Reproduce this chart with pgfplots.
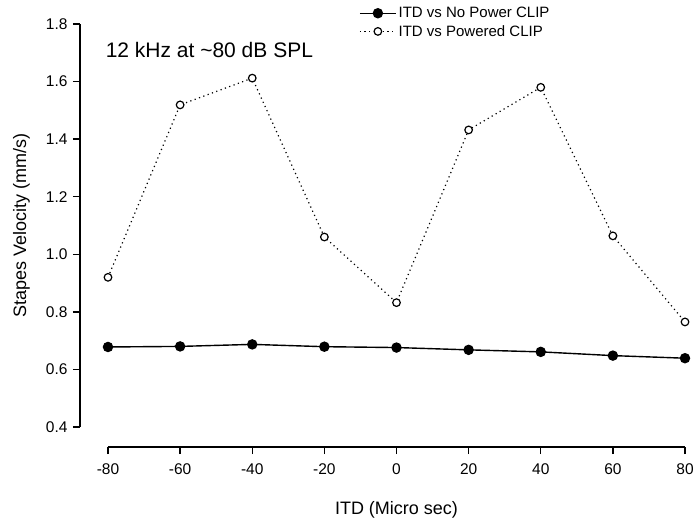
\documentclass[border=0pt]{standalone}
\usepackage{fontspec}
\setmainfont{Liberation Sans}
\usepackage{pgfplots}
\pgfplotsset{compat=1.18}
\begin{document}
\begin{tikzpicture}
\path[use as bounding box] (-108pt,-96pt) rectangle (586pt,427pt);
\begin{axis}[
  at={(0pt,0pt)}, anchor=south west,
  scale only axis, width=577pt, height=403pt,
  xmin=-80, xmax=80, ymin=0.4, ymax=1.8,
  axis lines*=left,
  axis line style={draw=none},
  clip=false,
  tick align=outside,
  major tick length=7pt,
  every tick/.style={black, line width=1.3pt},
  every x tick/.style={yshift=-20pt},
  every y tick/.style={xshift=-28pt},
  xtick={-80,-60,...,80},
  ytick={0.4,0.6,...,1.8},
  /pgf/number format/assume math mode=true,
  tick label style={font=\fontsize{15.5}{17}\selectfont},
  yticklabel style={/pgf/number format/fixed, /pgf/number format/fixed zerofill, /pgf/number format/precision=1, xshift=-30pt},
  xticklabel style={yshift=-26pt},
  every axis x label/.style={at={(axis description cs:0.5,-0.2159)}, anchor=base},
  every axis y label/.style={at={(axis description cs:-0.142,0.5)}, rotate=90, anchor=base},
  label style={font=\fontsize{18}{20}\selectfont},
  xlabel={ITD (Micro sec)},
  ylabel={Stapes Velocity (mm/s)},
  legend style={draw=none, fill=none, at={(axis description cs:0.435,1.047)}, anchor=north west, font=\fontsize{15}{17}\selectfont, row sep=2pt, inner sep=0pt},
  legend cell align=left,
  legend image code/.code={\draw[mark repeat=2,mark phase=2,#1] plot coordinates {(0pt,0pt)(18pt,0pt)(36pt,0pt)};},
]
\addplot[black, line width=1.4pt, mark=*, mark size=4.5pt, mark options={solid, fill=black}] coordinates {
(-80,0.678) (-60,0.680) (-40,0.687) (-20,0.679) (0,0.676) (20,0.668) (40,0.661) (60,0.648) (80,0.639)};
\addlegendentry{ITD vs No Power CLIP}
\addplot[black, line width=1.2pt, dash pattern=on 1.2pt off 3.4pt, mark=*, mark size=3.8pt, mark options={solid, fill=white, line width=1.2pt}] coordinates {
(-80,0.920) (-60,1.519) (-40,1.612) (-20,1.060) (0,0.832) (20,1.432) (40,1.580) (60,1.064) (80,0.765)};
\addlegendentry{ITD vs Powered CLIP}
\draw[line width=1.5pt] ([yshift=-20pt]axis cs:-80,0.4) -- ([yshift=-20pt]axis cs:80,0.4);
\draw[line width=1.5pt] ([xshift=-28pt]axis cs:-80,0.4) -- ([xshift=-28pt]axis cs:-80,1.8);
\node[anchor=base west, font=\fontsize{21}{23}\selectfont] at (axis description cs:-0.01,0.918) {12 kHz at \textasciitilde 80 dB SPL};
\end{axis}
\end{tikzpicture}
\end{document}
